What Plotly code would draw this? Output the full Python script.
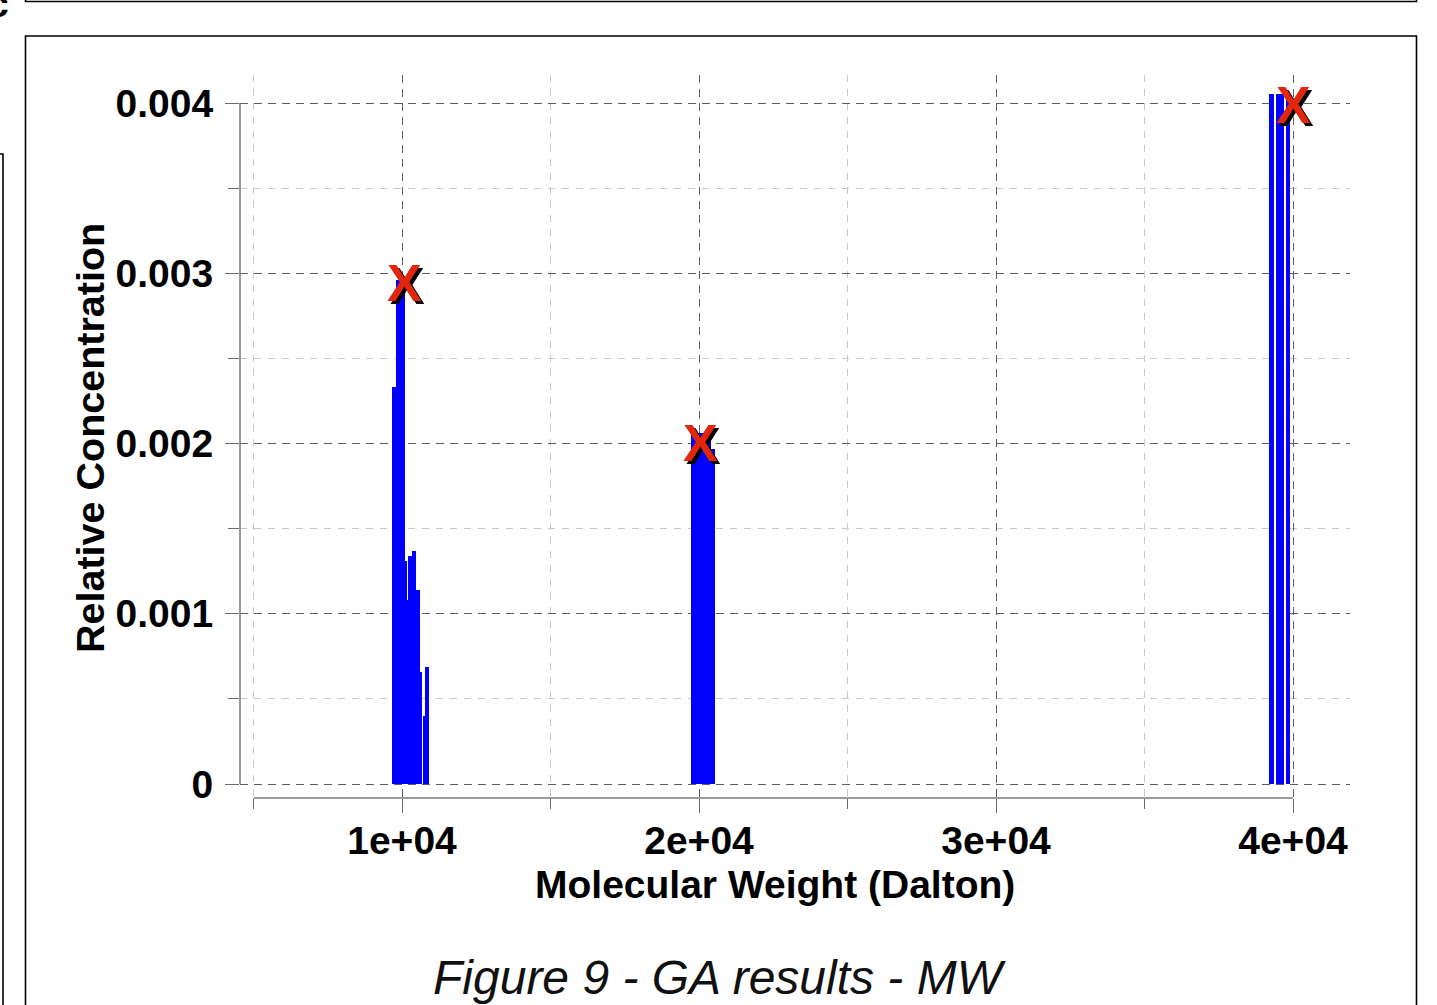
import plotly.graph_objects as go

# GA result bins: molecular weight bin edges (Dalton) and relative concentration
bin_lo = [9670, 9800, 10100, 10180, 10200, 10340, 10460, 10620, 10720, 10790,
          19740, 20420,
          39200, 39430, 39750]
bin_hi = [9800, 10100, 10180, 10200, 10340, 10460, 10620, 10680, 10790, 10920,
          20420, 20540,
          39370, 39700, 39900]
conc = [0.00233, 0.00296, 0.00131, 0.00108, 0.00134, 0.00137, 0.00114, 0.00066, 0.00040, 0.00069,
        0.00206, 0.00197,
        0.00405, 0.00405, 0.00405]

# Target solutes (marked with an X)
target_mw = [10100, 20050, 40010]
target_conc = [0.00294, 0.002005, 0.00399]

x_tickvals = [10000, 20000, 30000, 40000]
x_ticktext = ["1e+04", "2e+04", "3e+04", "4e+04"]
y_tickvals = [0, 0.001, 0.002, 0.003, 0.004]
y_ticktext = ["0", "0.001", "0.002", "0.003", "0.004"]

W, H = 1437, 1005
ML, MR, MT, MB = 240, 87, 75, 207
PW, PH = W - ML - MR, H - MT - MB


def px_x(px):
    return (px - ML) / PW


def px_y(py):
    return (H - MB - py) / PH


FONT = "Liberation Sans, Arial, sans-serif"
BOLD = dict(family=FONT, size=39, color="black", weight="bold")

centers = [(a + b) / 2 for a, b in zip(bin_lo, bin_hi)]
widths = [b - a for a, b in zip(bin_lo, bin_hi)]

fig = go.Figure()
fig.add_trace(go.Bar(
    x=centers, y=conc, width=widths,
    marker=dict(color="#0000ff", line=dict(width=0)),
    hoverinfo="x+y",
))

annotations = []
# X markers: black drop shadow, then red glyph
for color, dx, dy in (("black", 3, -3), ("#e0260c", 0, 0)):
    for mw, c in zip(target_mw, target_conc):
        annotations.append(dict(
            x=mw, y=c, xref="x", yref="y", text="X", showarrow=False,
            xanchor="center", yanchor="middle", xshift=dx, yshift=dy,
            font=dict(family=FONT, size=52, color=color, weight="bold"),
        ))

annotations += [
    dict(x=px_x(90), y=px_y(438), xref="paper", yref="paper",
         text="Relative Concentration", textangle=-90, showarrow=False,
         xanchor="center", yanchor="middle",
         font=dict(BOLD, size=39.5)),
    dict(x=px_x(775), y=px_y(884), xref="paper", yref="paper",
         text="Molecular Weight (Dalton)", showarrow=False,
         xanchor="center", yanchor="middle", font=BOLD),
    dict(x=px_x(720), y=px_y(977), xref="paper", yref="paper",
         text="<i>Figure 9 - GA results - MW</i>", showarrow=False,
         xanchor="center", yanchor="middle",
         font=dict(family=FONT, size=48, color="#111111")),
    dict(x=px_x(-2), y=px_y(4), xref="paper", yref="paper",
         text="c", showarrow=False, xanchor="center", yanchor="middle",
         font=BOLD),
]

shapes = [
    # range-frame axis lines
    dict(type="line", xref="paper", yref="y", x0=0, x1=0, y0=0, y1=0.004,
         line=dict(color="#7a7a7a", width=1.5), layer="above"),
    dict(type="line", xref="x", yref="paper", x0=5000, x1=40000, y0=0, y1=0,
         line=dict(color="#7a7a7a", width=1.5), layer="above"),
    # page frames
    dict(type="rect", xref="paper", yref="paper",
         x0=px_x(25.5), x1=px_x(1416.5), y0=px_y(1100), y1=px_y(36),
         line=dict(color="black", width=1.6), layer="above"),
    dict(type="rect", xref="paper", yref="paper",
         x0=px_x(25.5), x1=px_x(1416.5), y0=px_y(1.5), y1=px_y(-60),
         line=dict(color="black", width=1.6), layer="above"),
    dict(type="rect", xref="paper", yref="paper",
         x0=px_x(-60), x1=px_x(3), y0=px_y(1100), y1=px_y(154),
         line=dict(color="black", width=1.6), layer="above"),
]

fig.update_layout(
    width=W, height=H,
    margin=dict(l=ML, r=MR, t=MT, b=MB, pad=0),
    paper_bgcolor="white", plot_bgcolor="white",
    showlegend=False, bargap=0, barmode="overlay",
    annotations=annotations, shapes=shapes,
    xaxis=dict(
        range=[4545, 41919], tickmode="array",
        tickvals=x_tickvals, ticktext=x_ticktext,
        ticks="outside", ticklen=14, tickwidth=1.3, tickcolor="#6a6a6a",
        ticklabelstandoff=-6,
        showline=False, zeroline=False,
        showgrid=True, gridcolor="#5e5e5e", gridwidth=1.1, griddash="8px,6px",
        tickfont=BOLD,
        minor=dict(dtick=5000, tick0=0, ticks="outside", ticklen=10,
                   tickwidth=1.3, tickcolor="#6a6a6a",
                   showgrid=True, gridcolor="#c8c8c8", gridwidth=1.1,
                   griddash="7px,7px"),
    ),
    yaxis=dict(
        range=[-0.0000822, 0.0041645], tickmode="array",
        tickvals=y_tickvals, ticktext=y_ticktext,
        ticks="outside", ticklen=14, tickwidth=1.3, tickcolor="#6a6a6a",
        ticklabelstandoff=4,
        showline=False, zeroline=False,
        showgrid=True, gridcolor="#5e5e5e", gridwidth=1.1, griddash="8px,6px",
        tickfont=BOLD,
        minor=dict(dtick=0.0005, tick0=0, ticks="outside", ticklen=11,
                   tickwidth=1.3, tickcolor="#6a6a6a",
                   showgrid=True, gridcolor="#c8c8c8", gridwidth=1.1,
                   griddash="7px,7px"),
    ),
)

fig.write_html("out.html")
